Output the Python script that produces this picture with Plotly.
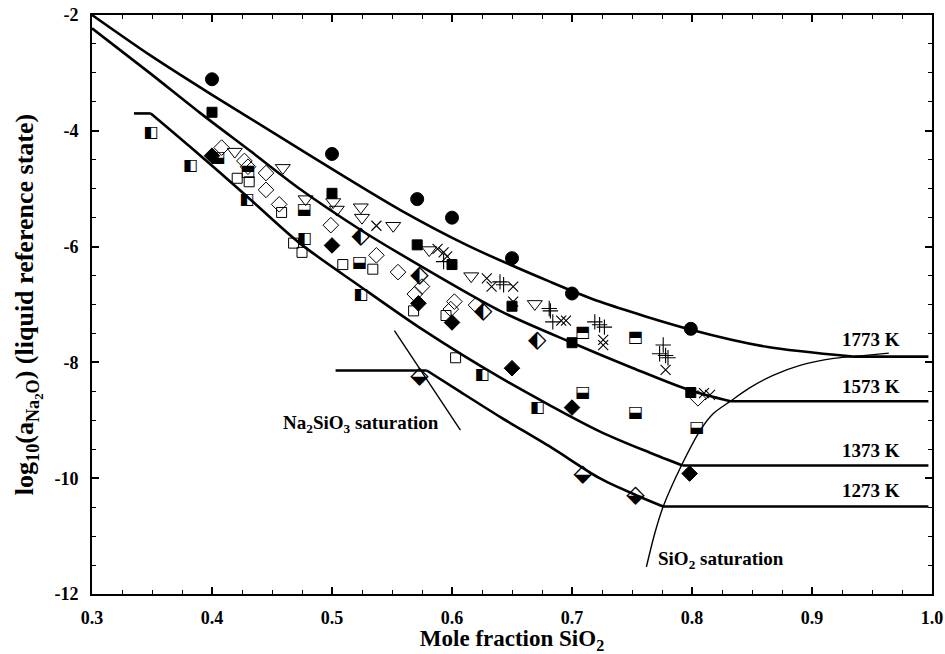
import plotly.graph_objects as go

# ---- isotherms (model curves), log10 activity of Na2O vs mole fraction SiO2 ----
iso_1773_x = [0.300, 0.348, 0.400, 0.454, 0.507, 0.557, 0.612, 0.682, 0.723, 0.800, 0.862, 0.934, 0.997]
iso_1773_y = [-2.00, -2.69, -3.38, -4.07, -4.75, -5.37, -5.97, -6.61, -6.95, -7.44, -7.73, -7.90, -7.90]

iso_1573_x = [0.300, 0.348, 0.390, 0.432, 0.473, 0.523, 0.557, 0.640, 0.700, 0.751, 0.798, 0.832, 0.997]
iso_1573_y = [-2.23, -3.00, -3.69, -4.35, -5.00, -5.70, -6.13, -7.11, -7.66, -8.10, -8.48, -8.67, -8.67]

iso_1373_x = [0.335, 0.349, 0.382, 0.429, 0.473, 0.523, 0.573, 0.640, 0.723, 0.765, 0.792, 0.997]
iso_1373_y = [-3.70, -3.70, -4.28, -5.13, -5.94, -6.68, -7.40, -8.26, -9.19, -9.56, -9.78, -9.78]

iso_1273_x = [0.503, 0.579, 0.607, 0.640, 0.682, 0.723, 0.753, 0.776, 0.997]
iso_1273_y = [-8.14, -8.14, -8.51, -8.94, -9.46, -10.00, -10.29, -10.49, -10.49]

iso_labels = ["1773 K", "1573 K", "1373 K", "1273 K"]
iso_label_y = [-7.61, -8.42, -9.53, -10.22]

# ---- phase saturation boundaries ----
sio2_sat_x = [0.762, 0.769, 0.776, 0.791, 0.807, 0.818, 0.832, 0.848, 0.868, 0.890, 0.918, 0.934, 0.964]
sio2_sat_y = [-11.53, -10.95, -10.49, -9.79, -9.17, -8.88, -8.67, -8.44, -8.22, -8.05, -7.93, -7.90, -7.84]

na2sio3_sat_x = [0.552, 0.607]
na2sio3_sat_y = [-7.45, -9.17]

# ---- experimental data ----
circ_x = [0.400, 0.500, 0.571, 0.600, 0.650, 0.700, 0.799]
circ_y = [-3.11, -4.40, -5.18, -5.50, -6.20, -6.81, -7.42]

sqf_x = [0.400, 0.500, 0.571, 0.600, 0.650, 0.700, 0.799]
sqf_y = [-3.68, -5.08, -5.97, -6.31, -7.03, -7.66, -8.52]

dmf_x = [0.400, 0.500, 0.572, 0.600, 0.650, 0.700, 0.798]
dmf_y = [-4.43, -5.98, -6.98, -7.31, -8.10, -8.78, -9.92]

dmb_x = [0.573, 0.709, 0.753]
dmb_y = [-8.25, -9.95, -10.31]

tri_x = [0.419, 0.459, 0.478, 0.501, 0.504, 0.524, 0.525, 0.551, 0.581, 0.616, 0.669]
tri_y = [-4.36, -4.64, -5.18, -5.23, -5.36, -5.32, -5.50, -5.64, -6.06, -6.51, -6.99]

dmo_x = [0.408, 0.427, 0.430, 0.445, 0.445, 0.456, 0.499, 0.537, 0.555, 0.575, 0.569, 0.602, 0.599, 0.620, 0.805]
dmo_y = [-4.29, -4.52, -4.62, -4.73, -5.02, -5.27, -5.63, -6.15, -6.44, -6.69, -6.82, -6.95, -7.08, -7.01, -8.62]

sqo_x = [0.421, 0.431, 0.458, 0.468, 0.475, 0.509, 0.534, 0.568, 0.595, 0.603]
sqo_y = [-4.82, -4.88, -5.41, -5.94, -6.10, -6.31, -6.39, -7.11, -7.19, -7.92]

sql_x = [0.349, 0.382, 0.429, 0.477, 0.524, 0.625, 0.671]
sql_y = [-4.04, -4.60, -5.20, -5.87, -6.83, -8.22, -8.79]

sqt_x = [0.430, 0.709, 0.753]
sqt_y = [-4.72, -7.49, -7.58]

sqb_x = [0.405, 0.477, 0.523, 0.709, 0.753, 0.804]
sqb_y = [-4.47, -5.36, -6.29, -8.53, -8.87, -9.14]

dml_x = [0.524, 0.573, 0.626, 0.671]
dml_y = [-5.83, -6.51, -7.13, -7.63]

xm_x = [0.537, 0.588, 0.593, 0.596, 0.629, 0.633, 0.651, 0.651, 0.691, 0.695, 0.726, 0.726, 0.778, 0.810, 0.815]
xm_y = [-5.64, -6.04, -6.10, -6.17, -6.55, -6.69, -6.69, -6.95, -7.28, -7.28, -7.61, -7.70, -8.13, -8.53, -8.56]

pl_x = [0.593, 0.640, 0.643, 0.681, 0.682, 0.684, 0.719, 0.723, 0.727, 0.776, 0.773, 0.778, 0.780]
pl_y = [-6.26, -6.61, -6.66, -7.07, -7.11, -7.30, -7.30, -7.35, -7.39, -7.70, -7.85, -7.88, -7.92]

x_ticks = [0.3, 0.4, 0.5, 0.6, 0.7, 0.8, 0.9, 1.0]
y_ticks = [-12, -10, -8, -6, -4, -2]

SERIF = "Liberation Serif, Times New Roman, serif"
fig = go.Figure()


def add_isotherm(x, y):
    """Flat (saturated) stretches are drawn straight, the rest as a smooth curve."""
    groups = []
    for i in range(1, len(x)):
        flat = y[i] == y[i - 1]
        if groups and groups[-1][0] == flat:
            groups[-1][1].append(i)
        else:
            groups.append([flat, [i - 1, i]])
    for flat, idx in groups:
        fig.add_trace(go.Scatter(
            x=[x[k] for k in idx], y=[y[k] for k in idx], mode="lines",
            line=dict(color="black", width=2.6, shape="linear" if flat else "spline", smoothing=0.8),
            hoverinfo="skip", showlegend=False))


for xs, ys in [(iso_1773_x, iso_1773_y), (iso_1573_x, iso_1573_y),
               (iso_1373_x, iso_1373_y), (iso_1273_x, iso_1273_y)]:
    add_isotherm(xs, ys)

fig.add_trace(go.Scatter(x=sio2_sat_x, y=sio2_sat_y, mode="lines",
                         line=dict(color="black", width=1.4, shape="spline", smoothing=0.8),
                         showlegend=False))
fig.add_trace(go.Scatter(x=na2sio3_sat_x, y=na2sio3_sat_y, mode="lines",
                         line=dict(color="black", width=1.4), showlegend=False))


def add_markers(x, y, symbol, size, lw=1.0):
    fig.add_trace(go.Scatter(
        x=x, y=y, mode="markers", showlegend=False,
        marker=dict(symbol=symbol, size=size, color="black",
                    line=dict(color="black", width=lw))))


def add_glyphs(x, y, glyph, size):
    # half-filled symbols drawn as text glyphs
    fig.add_trace(go.Scatter(
        x=x, y=y, mode="text", text=[glyph] * len(x), showlegend=False,
        textposition="middle center",
        textfont=dict(family="DejaVu Sans", size=size, color="black")))


add_markers(sqo_x, sqo_y, "square-open", 10)
add_markers(dmo_x, dmo_y, "diamond-open", 12)
add_markers(tri_x, tri_y, "triangle-down-open", 13)
add_markers(xm_x, xm_y, "x-thin-open", 10, 1.1)
add_markers(pl_x, pl_y, "cross-thin-open", 11, 1.1)
add_markers(circ_x, circ_y, "circle", 13)
add_markers(sqf_x, sqf_y, "square", 10)
add_markers(dmf_x, dmf_y, "diamond", 12)
add_glyphs(sql_x, sql_y, "\u25E7", 16)
add_glyphs(sqt_x, sqt_y, "\u2B12", 16)
add_glyphs(sqb_x, sqb_y, "\u2B13", 16)
add_glyphs(dml_x, dml_y, "\u2B16", 24)
add_glyphs(dmb_x, dmb_y, "\u2B19", 24)

# isotherm labels
for lab, ly in zip(iso_labels, iso_label_y):
    fig.add_annotation(x=0.949, y=ly, text=lab, showarrow=False,
                       font=dict(family=SERIF, size=19, color="black", weight="bold"))

fig.add_annotation(x=0.524, y=-9.06, text="Na<sub>2</sub>SiO<sub>3</sub> saturation", showarrow=False,
                   font=dict(family=SERIF, size=19, color="black", weight="bold"))
fig.add_annotation(x=0.824, y=-11.41, text="SiO<sub>2</sub> saturation", showarrow=False,
                   font=dict(family=SERIF, size=19, color="black", weight="bold"))

axis_common = dict(
    showline=True, linecolor="black", linewidth=2, mirror="ticks",
    ticks="inside", ticklen=7, tickwidth=1.5, tickcolor="black",
    showgrid=False, zeroline=False,
    tickfont=dict(family=SERIF, size=18, color="black", weight="bold"),
)

fig.update_xaxes(range=[0.3, 1.0], tickvals=x_ticks, ticktext=[f"{v:.1f}" for v in x_ticks],
                 minor=dict(dtick=0.025, ticks="inside", ticklen=4, tickcolor="black", tickwidth=1.2),
                 title=dict(text="Mole fraction SiO<sub>2</sub>", standoff=4,
                            font=dict(family=SERIF, size=23, color="black", weight="bold")),
                 ticklabelstandoff=6, **axis_common)
fig.update_yaxes(range=[-12, -2], tickvals=y_ticks, ticktext=[f"{v:d}" for v in y_ticks],
                 minor=dict(dtick=0.5, ticks="inside", ticklen=4, tickcolor="black", tickwidth=1.2),
                 title=dict(text="log<sub>10</sub>(a<sub>Na<sub>2</sub>O</sub>) (liquid reference state)",
                            standoff=13,
                            font=dict(family=SERIF, size=26, color="black", weight="bold")),
                 ticklabelstandoff=8, **axis_common)

fig.update_layout(
    width=945, height=654,
    margin=dict(l=92, r=13, t=15, b=60, autoexpand=False),
    paper_bgcolor="white", plot_bgcolor="white",
    showlegend=False,
)

fig.write_html("out.html")
